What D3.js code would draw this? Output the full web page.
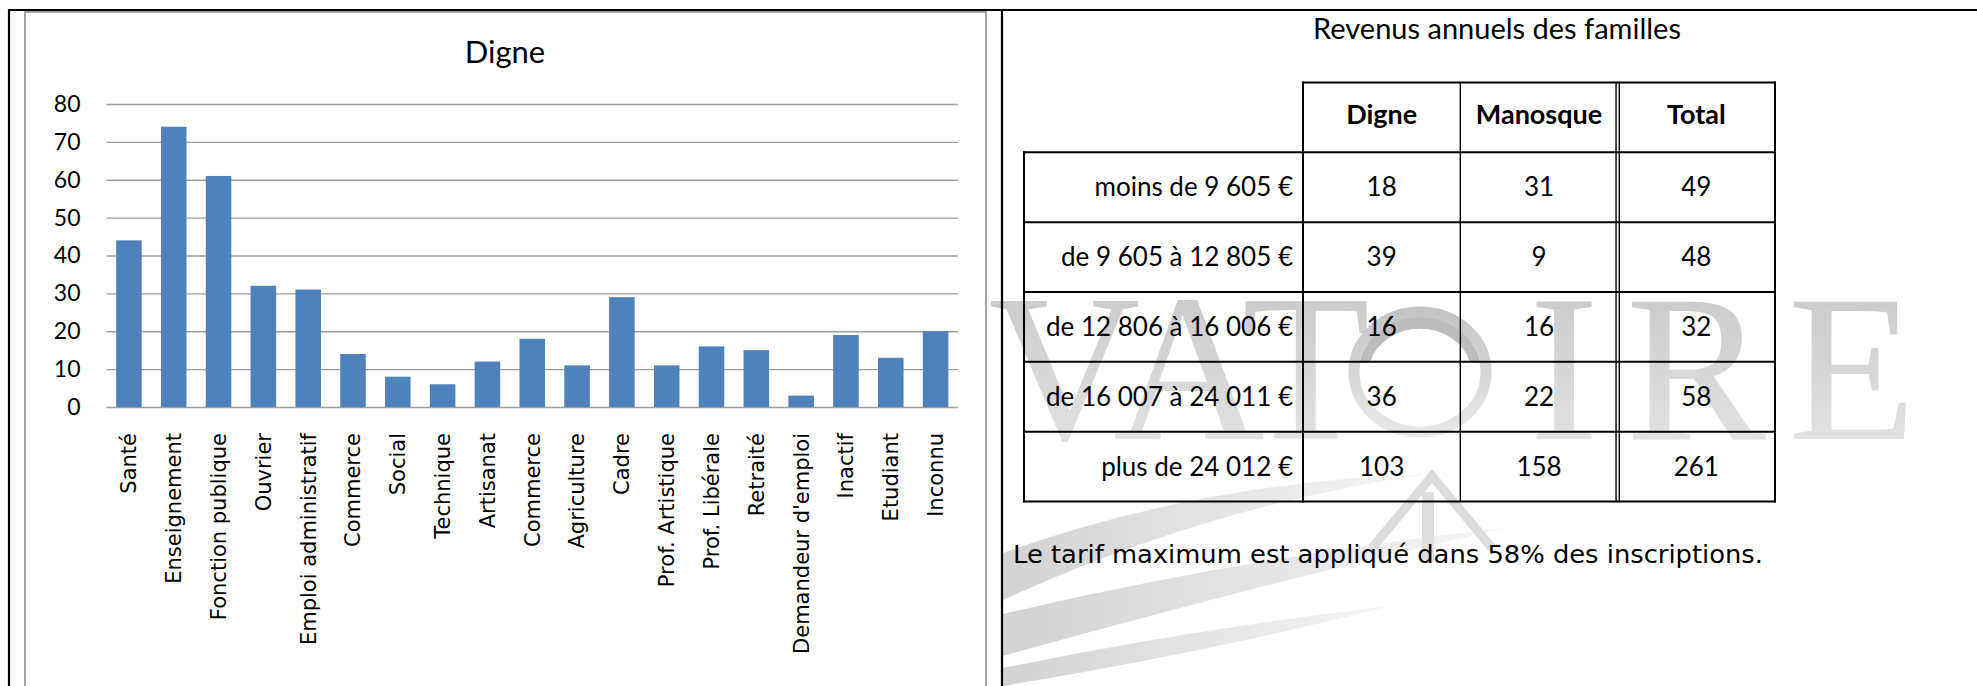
<!DOCTYPE html>
<html>
<head>
<meta charset="utf-8">
<script src="https://cdn.jsdelivr.net/npm/d3@7"></script>
<style>
  body { margin: 0; background: #fff; }
  svg { display: block; }
</style>
</head>
<body>
<svg id="page" width="1977" height="686"></svg>
<script>
'use strict';

// bar chart: professions of Digne families
var categories = ["Santé", "Enseignement", "Fonction publique", "Ouvrier", "Emploi administratif",
    "Commerce", "Social", "Technique", "Artisanat", "Commerce", "Agriculture", "Cadre",
    "Prof. Artistique", "Prof. Libérale", "Retraité", "Demandeur d'emploi", "Inactif",
    "Etudiant", "Inconnu"];
var digneCounts = [44, 74, 61, 32, 31, 14, 8, 6, 12, 18, 11, 29, 11, 16, 15, 3, 19, 13, 20];
var yTicks = [0, 10, 20, 30, 40, 50, 60, 70, 80];

// income table
var incomeBrackets = ["moins de 9 605 €", "de 9 605 à 12 805 €", "de 12 806 à 16 006 €",
    "de 16 007 à 24 011 €", "plus de 24 012 €"];
var tableColumns = ["Digne", "Manosque", "Total"];
var digneIncome = [18, 39, 16, 36, 103];
var manosqueIncome = [31, 9, 16, 22, 158];
var totalIncome = [49, 48, 32, 58, 261];

var chartTitle = "Digne";
var tableTitle = "Revenus annuels des familles";
var note = "Le tarif maximum est appliqué dans 58% des inscriptions.";

var svg = d3.select("#page");
var defs = svg.append("defs");

var calibri = "Lato, 'Open Sans', sans-serif";
var tahoma = "'DejaVu Sans', Verdana, sans-serif";

// ---- watermark behind everything ----
var wmGrad = defs.append("linearGradient").attr("id", "wmFade")
    .attr("x1", 0).attr("y1", 0).attr("x2", 0).attr("y2", 1);
wmGrad.append("stop").attr("offset", "0%").attr("stop-color", "#c4c4c4");
wmGrad.append("stop").attr("offset", "100%").attr("stop-color", "#e8e8e8");

var swGrad = defs.append("linearGradient").attr("id", "swFade")
    .attr("x1", 0).attr("y1", 0).attr("x2", 1).attr("y2", 0);
swGrad.append("stop").attr("offset", "0%").attr("stop-color", "#d2d2d2");
swGrad.append("stop").attr("offset", "100%").attr("stop-color", "#f6f6f6");

var wm = svg.append("g").attr("class", "watermark");

var swooshes = [
    "M1003,553 Q1200,482 1428,474 Q1210,505 1003,600 Z",
    "M1003,614 Q1250,556 1505,528 Q1260,584 1003,656 Z",
    "M1003,668 Q1200,628 1390,606 Q1210,652 1003,686 Z"
];
wm.selectAll("path.swoosh").data(swooshes).join("path")
    .attr("class", "swoosh")
    .attr("d", function(d) { return d; })
    .attr("fill", "url(#swFade)");

wm.append("path")
    .attr("d", "M1372,548 L1432,476 L1492,548")
    .attr("fill", "none").attr("stroke", "#dcdcdc").attr("stroke-width", 9);
wm.append("rect").attr("x", 1422).attr("y", 492).attr("width", 12).attr("height", 70)
    .attr("fill", "#dedede");

wm.append("text")
    .attr("x", 1370).attr("y", 439)
    .attr("text-anchor", "end")
    .attr("font-family", "'Liberation Serif', 'DejaVu Serif', serif")
    .attr("font-size", 210)
    .attr("fill", "url(#wmFade)")
    .text("VAT");
wm.append("text")
    .attr("x", "1529 1626 1788").attr("y", 439)
    .attr("font-family", "'Liberation Serif', 'DejaVu Serif', serif")
    .attr("font-size", 210)
    .attr("fill", "url(#wmFade)")
    .text("IRE");
// globe of the logo: darker cap on top, thin ring below
wm.append("path")
    .attr("d", "M1354,362 A68,62 0 0 1 1486,362 L1470,362 A52,46 0 0 0 1370,362 Z")
    .attr("fill", "#bcbcbc");
wm.append("ellipse")
    .attr("cx", 1420).attr("cy", 372).attr("rx", 66).attr("ry", 60)
    .attr("fill", "none").attr("stroke", "url(#wmFade)").attr("stroke-width", 11);

// ---- left panel: Excel style column chart ----
var chart = svg.append("g").attr("class", "chart");
chart.append("rect")
    .attr("x", 25).attr("y", 12).attr("width", 961).attr("height", 700)
    .attr("fill", "#fff").attr("stroke", "#a3a3a3").attr("stroke-width", 2);

var plotLeft = 106.5, plotRight = 958;
var xScale = d3.scaleBand()
    .domain(d3.range(categories.length))
    .range([plotLeft, plotRight])
    .paddingInner(0.43)
    .paddingOuter(0.215);
var yScale = d3.scaleLinear().domain([0, 80]).range([407, 104]);

var yAxis = d3.axisLeft(yScale)
    .tickValues(yTicks)
    .tickSize(-(plotRight - plotLeft))
    .tickPadding(26)
    .tickFormat(d3.format("d"));
var gy = chart.append("g")
    .attr("transform", "translate(" + plotLeft + ",0)")
    .call(yAxis);
gy.select(".domain").remove();
gy.selectAll(".tick line").attr("stroke", "#9e9e9e").attr("stroke-width", 1.3);
gy.selectAll(".tick text")
    .attr("font-family", calibri).attr("font-size", 23).attr("fill", "#000");

chart.append("g").selectAll("rect").data(digneCounts).join("rect")
    .attr("x", function(d, i) { return xScale(i); })
    .attr("y", function(d) { return yScale(d); })
    .attr("width", xScale.bandwidth())
    .attr("height", function(d) { return yScale(0) - yScale(d); })
    .attr("fill", "#4f81bd");

chart.append("g").selectAll("text").data(categories).join("text")
    .attr("transform", function(d, i) {
        return "translate(" + (xScale(i) + xScale.bandwidth() / 2) + ",433) rotate(-90)";
    })
    .attr("dy", "0.35em")
    .attr("text-anchor", "end")
    .attr("font-family", tahoma)
    .attr("font-size", 21)
    .attr("fill", "#000")
    .text(function(d) { return d; });

chart.append("text")
    .attr("x", 505).attr("y", 63)
    .attr("text-anchor", "middle")
    .attr("font-family", calibri).attr("font-size", 31).attr("fill", "#000")
    .text(chartTitle);

// ---- right panel: income table ----
var table = svg.append("g").attr("class", "table");
var labelLeft = 1024;
var colScale = d3.scaleBand().domain(tableColumns).range([1303, 1775]);
var rowScale = d3.scaleBand().domain(["header"].concat(incomeBrackets)).range([82.5, 501.5]);
var columnValues = [digneIncome, manosqueIncome, totalIncome];

table.append("text")
    .attr("x", 1497).attr("y", 39)
    .attr("text-anchor", "middle")
    .attr("font-family", calibri).attr("font-size", 29).attr("fill", "#000")
    .text(tableTitle);

var rowTops = rowScale.domain().map(function(r) { return rowScale(r); });
var tableBottom = rowScale.range()[1];
var tableRight = colScale.range()[1];
var segs = [];
// top of header row only spans the value columns
segs.push([colScale.range()[0], rowTops[0], tableRight, rowTops[0]]);
rowTops.slice(1).concat([tableBottom]).forEach(function(y) {
    segs.push([labelLeft, y, tableRight, y]);
});
segs.push([labelLeft, rowTops[1], labelLeft, tableBottom]);
tableColumns.forEach(function(c, i) {
    var x = colScale(c);
    if (i === 2) {
        // double rule before Total
        segs.push([x - 1.6, rowTops[0], x - 1.6, tableBottom]);
        segs.push([x + 1.6, rowTops[0], x + 1.6, tableBottom]);
    } else {
        segs.push([x, rowTops[0], x, tableBottom]);
    }
});
segs.push([tableRight, rowTops[0], tableRight, tableBottom]);

table.append("g").selectAll("line").data(segs).join("line")
    .attr("x1", function(s) { return s[0]; })
    .attr("y1", function(s) { return s[1]; })
    .attr("x2", function(s) { return s[2]; })
    .attr("y2", function(s) { return s[3]; })
    .attr("stroke", "#000")
    .attr("stroke-width", function(s) { return s[0] === s[2] && (s[0] % 1 !== 0) ? 1.4 : 2; })
    .attr("stroke-linecap", "square");

var rowMid = function(r) { return rowScale(r) + rowScale.bandwidth() / 2; };

table.append("g").selectAll("text").data(tableColumns).join("text")
    .attr("x", function(c) { return colScale(c) + colScale.bandwidth() / 2; })
    .attr("y", rowMid("header") + 7)
    .attr("text-anchor", "middle")
    .attr("font-family", calibri).attr("font-weight", "bold").attr("font-size", 27)
    .text(function(c) { return c; });

table.append("g").selectAll("text").data(incomeBrackets).join("text")
    .attr("x", colScale.range()[0] - 10)
    .attr("y", function(r) { return rowMid(r) + 9; })
    .attr("text-anchor", "end")
    .attr("font-family", calibri).attr("font-size", 26)
    .text(function(r) { return r; });

tableColumns.forEach(function(c, ci) {
    table.append("g").selectAll("text").data(columnValues[ci]).join("text")
        .attr("x", colScale(c) + colScale.bandwidth() / 2)
        .attr("y", function(v, i) { return rowMid(incomeBrackets[i]) + 9; })
        .attr("text-anchor", "middle")
        .attr("font-family", calibri).attr("font-size", 26)
        .text(function(v) { return v; });
});

table.append("text")
    .attr("x", 1013).attr("y", 563)
    .attr("font-family", tahoma).attr("font-size", 24)
    .attr("textLength", 750).attr("lengthAdjust", "spacingAndGlyphs")
    .text(note);

// ---- page borders ----
var borders = [[8, 10, 1977, 10], [9, 9, 9, 686], [1002, 10, 1002, 686]];
svg.append("g").selectAll("line").data(borders).join("line")
    .attr("x1", function(s) { return s[0]; })
    .attr("y1", function(s) { return s[1]; })
    .attr("x2", function(s) { return s[2]; })
    .attr("y2", function(s) { return s[3]; })
    .attr("stroke", "#000").attr("stroke-width", 2.2);
</script>
</body>
</html>
